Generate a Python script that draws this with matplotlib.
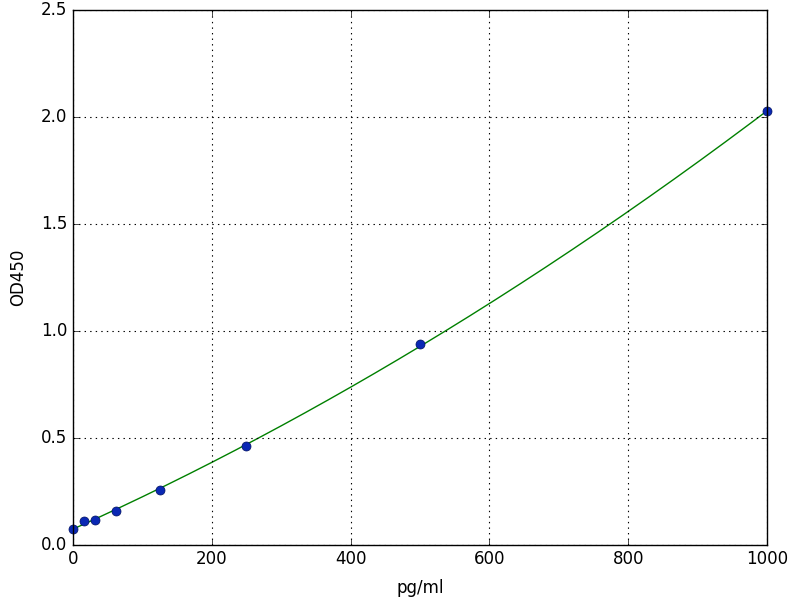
import numpy as np
import matplotlib
matplotlib.use('Agg')
import matplotlib.pyplot as plt
plt.style.use('classic')

# standard concentrations (pg/ml) and measured OD450
conc = [0.0, 15.6, 31.25, 62.5, 125.0, 250.0, 500.0, 1000.0]
od450 = [0.076, 0.109, 0.117, 0.160, 0.255, 0.462, 0.938, 2.028]

# fitted standard curve from the points
coef = np.polyfit(conc, od450, 2)
x_fit = np.linspace(0, 1000, 300)
y_fit = np.polyval(coef, x_fit)

fig = plt.figure(figsize=(8, 6), dpi=100, facecolor='white')
ax = fig.add_axes([0.091, 0.092, 0.868, 0.891])

ax.plot(x_fit, y_fit, color='g', lw=1)
ax.plot(conc, od450, 'o', color='#0a28b4', markeredgecolor='#001060',
        markersize=6.5, clip_on=False)

ax.set_xlim(0, 1000)
ax.set_ylim(0, 2.5)
ax.set_xticks([0, 200, 400, 600, 800, 1000])
ax.set_yticks([0.0, 0.5, 1.0, 1.5, 2.0, 2.5])
ax.grid(True, color='k', linestyle=':', linewidth=0.8)
ax.set_xlabel('pg/ml', labelpad=8)
ax.set_ylabel('OD450', labelpad=10)

fig.savefig('out.png', dpi=100, facecolor='white')
